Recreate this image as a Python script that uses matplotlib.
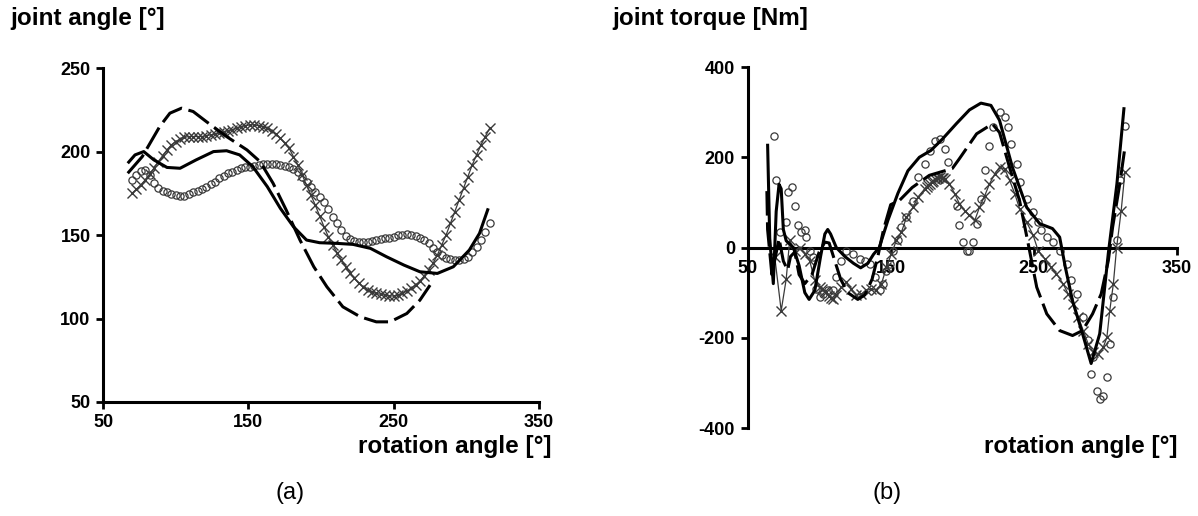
import matplotlib

matplotlib.use("Agg")
import matplotlib.pyplot as plt  # noqa: E402

plt.rcParams["font.family"] = ["Liberation Sans", "DejaVu Sans"]

# ---- panel (a): joint angle ----
A_SOLID_X = [67, 72, 78, 85, 94, 103, 114, 126, 135, 144, 153, 163, 172, 181, 190, 199,
             211, 222, 234, 245, 257, 268, 280, 291, 302, 309, 315]
A_SOLID_Y = [193, 198, 200, 195, 190.5, 190, 195, 200, 200.5, 198, 191, 179, 166, 155, 147,
             145.4, 145, 144.4, 142, 137, 132, 128, 127, 131, 141, 151, 166]

A_DASH_X = [67, 77, 89, 96, 104, 112, 121, 135, 149, 158, 167, 176, 185.5, 195, 204, 215,
            227, 238, 247.5, 259, 268, 275]
A_DASH_Y = [187, 197, 215, 223, 226, 224, 218, 209, 201, 194, 181, 165, 147, 131, 119, 107,
            101, 98, 98, 103, 111, 120]

A_MARK_X = [70, 73, 76, 79, 82, 85, 88, 91, 94, 97, 100, 103, 106, 109, 112, 115, 118, 121,
            124, 127, 130, 133, 136, 139, 142, 145, 148, 151, 154, 157, 160, 163, 166, 169,
            172, 175, 178, 181, 184, 187, 190, 193, 196, 199, 202, 205, 208, 211, 214, 217,
            220, 223, 226, 229, 232, 235, 238, 241, 244, 247, 250, 253, 256, 259, 262, 265,
            268, 271, 274, 277, 280, 283, 286, 289, 292, 295, 298, 301, 304, 307, 310, 313,
            316]
A_CIRCLE_Y = [183, 186, 188.5, 189, 186, 181, 178, 176.5, 175.5, 174.5, 174, 173.5, 173.5,
              174.5, 175.5, 176.5, 177.5, 179, 180.5, 182, 184, 185.5, 187, 188, 189, 190,
              190.5, 191, 191.5, 192, 192.3, 192.5, 192.5, 192.3, 192, 191.5, 190.5, 189.5,
              188, 185, 182, 179, 176, 173, 169.5, 165.5, 161, 157, 153, 149.5, 147.5, 146.5,
              146, 146, 146, 146.5, 147, 147.5, 148, 148.5, 149, 150, 150.3, 150.5, 150.3,
              149.5, 148.5, 147, 145, 142.5, 140, 138, 136.5, 135.5, 135, 135, 135.5, 137,
              140, 143, 147, 152, 157]
A_CROSS_Y = [175, 177.5, 180, 183, 186.5, 190, 194, 197.5, 201, 204, 206, 207.5, 208.5, 209,
             209, 209, 209, 209.5, 210, 210.5, 211, 212, 212.5, 213, 214, 215, 215.5, 216,
             216, 215.5, 215, 214, 212.5, 210.5, 208, 205, 202, 197, 192, 186, 180, 174, 168,
             161.5, 155, 149, 144, 139.5, 135, 131, 127, 124, 121, 119, 117, 116, 115, 114.5,
             114, 113.5, 113.5, 114, 115, 116.5, 118, 120, 122.5, 125.5, 129, 133, 138, 144,
             150, 157, 164, 171, 178, 185, 192, 198, 204, 209, 214]

# ---- panel (b): joint torque ----
B_SOLID_X = [64, 65.5, 68, 70, 72, 73.5, 75, 77, 82, 86, 90, 93, 97, 101, 104, 106, 108, 112,
             118, 124, 129, 134, 138, 142, 148, 155, 162, 170, 178, 186, 196, 205, 213, 220,
             226, 235, 245, 254, 263, 268, 272, 277, 284, 290, 296, 302, 308, 313]
B_SOLID_Y = [230, 20, -80, 80, 140, 130, 40, 15, 0, -40, -100, -115, -95, -20, 30, 40, 30, 0,
             -20, -35, -45, -35, -15, 0, 60, 120, 170, 200, 215, 240, 275, 305, 320, 315, 282,
             178, 89, 53, 42, 23, -44, -118, -191, -257, -191, -13, 141, 311]

B_DASH_X = [63.5, 64, 67, 72, 75, 78, 80, 83, 86, 90, 95, 100, 104, 107, 110, 115, 120, 127,
            132, 137, 141, 145, 150, 156, 165, 177, 193, 198, 210, 221, 226, 233, 240, 246,
            252, 259, 268, 277, 284, 291, 297, 302, 305, 310, 313.6]
B_DASH_Y = [125, 40, -60, 20, -30, -50, -20, -10, -60, -80, -60, -10, 12, 10, -20, -70, -100,
            -115, -105, -70, -20, 40, 95, 104, 133, 160, 175, 197, 252, 274, 255, 178, 104, 9,
            -88, -147, -184, -195, -184, -147, -103, -29, 45, 141, 222]

B_CIRCLE_X = [68.4, 70, 72.4, 76.6, 78.2, 81, 82.9, 85.2, 87.5, 89.9, 91, 93.4, 95.7, 98,
              100.3, 102.7, 106, 109.7, 112, 115.5, 119, 123.7, 128.3, 131.8, 135.3, 138.8,
              142.3, 144.6, 147, 149.3, 151.6, 155, 157.5, 161, 165.6, 169, 173.8, 177.3,
              180.8, 184.3, 187.8, 190, 196, 198, 200.6, 203, 205, 207.6, 210, 213.4, 215.7,
              219, 221.6, 226, 229.7, 232, 234, 237.9, 240, 245, 249.5, 253, 255, 259, 263.5,
              268, 273, 276, 280, 284.5, 288, 291.5, 290, 294, 296, 298.5, 301, 303, 305.5,
              307.8, 310, 313.6]
B_CIRCLE_Y = [248, 149, 34, 56, 123, 134, 93, 49, 34, 38, 23, -7, -21, -92, -110, -103, -95,
              -95, -66, -29, -7, -14, -25, -29, -36, -66, -95, -81, -51, -36, -7, 16, 45, 67,
              104, 156, 185, 215, 237, 241, 219, 189, 93, 49, 12, -7, -7, 12, 52, 108, 171, 226,
              267, 300, 289, 267, 230, 186, 145, 108, 78, 56, 38, 23, 12, -7, -36, -73, -103,
              -154, -206, -243, -280, -317, -335, -328, -287, -214, -110, 16, 149, 270]

B_CROSS_X = [69, 73.5, 77, 79.4, 82.9, 86.4, 90, 93.4, 96.9, 100.3, 102, 104, 105, 107, 108.5,
             109.7, 112, 115.5, 119, 122.5, 126, 129.5, 133, 136.5, 140, 143.5, 147, 150.5,
             154, 157.5, 161, 165.6, 169, 173.8, 175, 176, 177.3, 178.5, 179.5, 180.8, 182,
             183, 184.3, 185.5, 186.5, 187.8, 191, 194.8, 198, 201.7, 205, 208.7, 212, 215.7,
             219, 222.7, 226, 229.7, 233, 236.7, 240, 245, 249.5, 253, 257.7, 262, 265.8,
             270.5, 274, 277.5, 281, 284.5, 288, 291.5, 295, 298.5, 301, 303, 305.5, 307.8,
             311, 313.6]
B_CROSS_Y = [-21, -140, -70, 16, -7, 0, -14, -29, -73, -88, -93, -97, -99, -108, -111, -114,
             -106, -88, -77, -92, -106, -103, -95, -92, -95, -81, -44, -14, 16, 34, 67, 89,
             112, 130, 135, 138, 141, 145, 148, 152, 154, 155, 156, 155, 154, 152, 141, 119,
             97, 82, 71, 60, 89, 115, 141, 163, 178, 174, 149, 119, 86, 56, 27, -7, -25, -44,
             -58, -81, -103, -125, -154, -184, -214, -232, -236, -221, -199, -140, -81, 0, 82,
             167]

X_TICKS = [50, 150, 250, 350]
A_Y_TICKS = [50, 100, 150, 200, 250]
B_Y_TICKS = [-400, -200, 0, 200, 400]

TICK_FONT = dict(fontsize=13, fontweight="bold")
LABEL_FONT = dict(fontsize=17.5, fontweight="bold")
MARK_GREY = "#3a3a3a"


def style_axes(ax, y_ticks):
    for side in ("top", "right"):
        ax.spines[side].set_visible(False)
    for side in ("left", "bottom"):
        ax.spines[side].set_linewidth(2.2)
    ax.tick_params(width=2, length=5, pad=4, direction="out")
    ax.set_xticks(X_TICKS)
    ax.set_xticklabels([str(t) for t in X_TICKS], **TICK_FONT)
    ax.set_yticks(y_ticks)
    ax.set_yticklabels([str(t) for t in y_ticks], **TICK_FONT)


def draw_series(ax, solid, dash, circ, cross):
    ax.plot(*solid, color="black", lw=2.2, solid_capstyle="butt", zorder=4)
    ax.plot(*dash, color="black", lw=2.2, dashes=(8, 2.2), dash_capstyle="butt", zorder=4)
    ax.plot(*circ, ls="none", marker="o", ms=5.2, mfc="none", mec=MARK_GREY, mew=0.9,
            zorder=3)
    ax.plot(*cross, color=MARK_GREY, lw=0.9, marker="x", ms=7, mew=1.0, zorder=3)


fig = plt.figure(figsize=(11.98, 5.16), dpi=100)

ax_a = fig.add_axes([0.086, 0.221, 0.364, 0.647])
draw_series(ax_a, (A_SOLID_X, A_SOLID_Y), (A_DASH_X, A_DASH_Y),
            (A_MARK_X, A_CIRCLE_Y), (A_MARK_X, A_CROSS_Y))
ax_a.set_xlim(50, 350)
ax_a.set_ylim(50, 250)
style_axes(ax_a, A_Y_TICKS)

ax_b = fig.add_axes([0.624, 0.1705, 0.3585, 0.6996])
draw_series(ax_b, (B_SOLID_X, B_SOLID_Y), (B_DASH_X, B_DASH_Y),
            (B_CIRCLE_X, B_CIRCLE_Y), (B_CROSS_X, B_CROSS_Y))
ax_b.set_xlim(50, 350)
ax_b.set_ylim(-400, 400)
ax_b.spines["bottom"].set_position(("data", 0))
style_axes(ax_b, B_Y_TICKS)

fig.text(10 / 1198, 1 - 18 / 516, "joint angle [°]", ha="left", va="center", **LABEL_FONT)
fig.text(612 / 1198, 1 - 18 / 516, "joint torque [Nm]", ha="left", va="center", **LABEL_FONT)
fig.text(551 / 1198, 1 - 446 / 516, "rotation angle [°]", ha="right", va="center",
         **LABEL_FONT)
fig.text(1178 / 1198, 1 - 446 / 516, "rotation angle [°]", ha="right", va="center",
         **LABEL_FONT)
fig.text(290 / 1198, 1 - 493 / 516, "(a)", ha="center", va="center", fontsize=17)
fig.text(887 / 1198, 1 - 493 / 516, "(b)", ha="center", va="center", fontsize=17)

fig.savefig("out.png", dpi=100)
